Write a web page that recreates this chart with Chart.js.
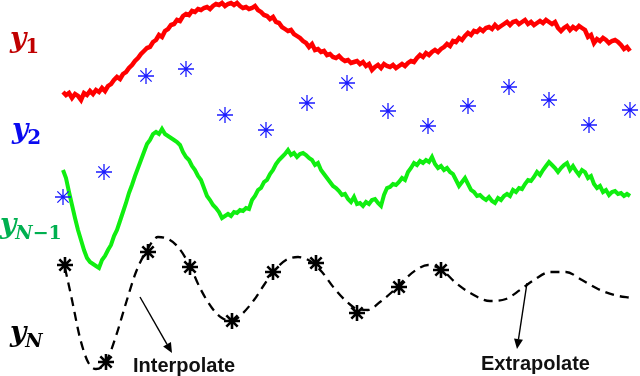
<!DOCTYPE html>
<html><head><meta charset="utf-8">
<script src="https://cdn.jsdelivr.net/npm/chart.js@4"></script>
<style>html,body{margin:0;padding:0;background:#fff}canvas{display:block}</style>
</head><body>
<canvas id="c" width="640" height="376"></canvas>
<script>
// ---- data (x: time units, y: depth units, measured downward) ----
const sampleStep = 0.3;
const y1Start = 6.3;
const y1Values = [
9.2,9.5,9.3,9.8,9.4,9.6,10.0,9.3,9.5,9.1,
9.4,9.0,9.2,8.8,9.1,8.6,8.4,8.0,7.7,7.9,
7.4,7.2,6.8,6.5,6.1,5.8,5.4,5.1,4.8,4.7,
4.2,4.0,3.5,3.7,3.1,2.9,2.5,2.4,2.0,2.1,
1.6,1.4,1.5,1.1,1.2,0.9,1.0,0.8,0.7,0.9,
0.6,0.4,0.5,0.3,0.6,0.4,0.3,0.5,0.3,0.6,
0.8,0.7,0.9,0.8,0.6,1.0,1.2,1.5,1.6,1.9,
1.7,2.2,2.3,2.7,2.9,3.1,3.0,3.4,3.6,3.8,
4.1,4.3,4.7,4.4,5.0,4.9,5.2,5.1,5.5,5.4,
5.7,5.8,5.6,5.9,6.1,6.0,6.3,6.2,6.1,6.4,
6.2,6.6,6.4,7.0,6.7,6.5,6.8,6.4,6.6,6.7,
6.5,6.8,6.6,6.4,6.6,6.3,6.1,6.2,5.8,5.5,
5.7,5.3,5.5,5.2,5.0,5.2,4.9,4.7,4.4,4.6,
4.1,4.2,3.8,4.0,3.6,3.3,3.5,3.1,3.2,2.9,
3.1,2.8,2.7,2.9,2.5,2.8,2.6,2.4,2.2,2.5,
2.2,2.1,2.4,2.2,2.0,2.4,2.2,2.5,2.3,2.1,
2.3,2.0,2.2,2.4,2.2,2.8,3.1,2.8,2.6,3.0,
2.7,2.9,2.6,2.8,3.0,3.7,3.5,4.3,3.9,4.1,
3.8,4.0,4.3,4.1,4.0,4.2,4.5,4.9,4.7,5.1];

const yNm1Start = 6.3;
const yNm1Values = [
17.0,17.8,19.2,20.5,21.8,23.0,24.0,25.0,25.8,26.2,
26.4,26.6,26.8,26.0,25.6,25.0,24.5,23.6,23.0,22.1,
21.2,20.3,19.3,18.5,17.6,16.8,16.0,15.2,14.4,14.0,
13.4,13.2,13.4,12.9,13.4,13.6,13.8,14.0,14.2,14.5,
15.2,15.7,16.0,16.6,17.0,17.6,18.0,18.8,19.6,20.0,
20.5,20.8,21.2,21.8,21.6,21.4,21.6,21.2,21.3,21.0,
21.1,20.8,20.9,20.0,19.6,19.0,18.8,18.2,18.0,17.4,
17.0,16.4,16.0,15.7,15.4,15.0,15.5,15.3,15.7,15.4,
15.3,15.5,15.8,16.0,16.5,16.3,17.0,17.4,17.8,18.2,
18.6,18.8,19.1,19.5,19.4,19.9,20.2,19.7,20.4,20.3,
20.6,20.2,20.4,20.0,19.9,20.3,20.6,19.5,18.8,18.7,
18.4,18.5,18.2,17.8,18.0,17.2,16.8,16.3,16.5,16.1,
16.3,16.0,16.2,15.7,16.4,16.8,16.6,17.0,16.8,17.2,
17.4,18.0,18.6,18.2,17.8,18.4,19.0,19.2,19.6,19.5,
19.8,20.0,19.7,20.1,20.3,19.8,20.0,19.6,19.4,19.6,
19.0,19.2,18.8,18.9,18.4,18.0,18.1,17.7,17.2,17.5,
17.0,16.6,16.2,16.5,16.8,17.2,16.8,16.5,16.3,17.0,
16.6,17.1,17.5,17.0,17.2,17.8,17.6,18.4,18.8,18.6,
19.2,19.0,19.5,19.2,19.1,19.4,19.3,19.6,19.4,19.6];

const yNCurveX = [6.5,7.2,8.0,8.8,9.6,10.6,11.6,12.6,13.6,14.7,15.8,16.8,17.8,19.0,20.0,21.2,22.2,23.2,24.2,25.4,26.4,27.4,28.6,29.8,31.0,32.2,33.4,34.6,35.7,36.8,38.0,39.2,40.4,41.6,42.8,44.2,45.6,47.2,49.0,50.6,52.0,53.4,55.0,56.6,58.2,59.8,61.4,63.2];
const yNCurveY = [26.8,30.0,33.8,36.2,36.9,36.2,33.6,30.3,27.2,25.0,23.7,23.9,24.7,26.6,28.8,30.8,31.8,32.1,31.4,30.0,28.5,27.1,26.0,25.7,26.1,27.2,28.8,30.1,30.9,31.0,30.2,29.2,28.0,27.0,26.5,27.0,28.3,29.4,30.1,29.9,29.0,28.0,27.2,27.2,28.0,28.9,29.5,29.8];

const y2SampleX = [6.3,10.4,14.6,18.6,22.5,26.6,30.7,34.7,38.8,42.8,46.8,50.9,54.9,58.9,63.0];
const y2SampleY = [19.7,17.2,7.6,6.9,11.5,13.0,10.3,8.3,11.1,12.6,10.6,8.7,10.0,12.5,11.0];

const yNSampleX = [6.5,10.6,14.8,19.0,23.2,27.3,31.6,35.7,39.9,44.1];
const yNSampleY = [26.5,36.2,25.2,26.7,32.1,27.2,26.3,31.3,28.7,27.0];

const seriesNames = ['1','2','N\u22121','N'];
const annotationTexts = ['Interpolate','Extrapolate'];

// ---- build datasets ----
const pts = (start, vals) => vals.map((v,i)=>({x: +(start + i*sampleStep).toFixed(2), y: v}));
const zip = (xs, ys) => xs.map((x,i)=>({x, y: ys[i]}));

const labelPlugin = {
  id: 'labels',
  afterDatasetsDraw(chart) {
    const {ctx, scales:{x, y}} = chart;
    const X = v => x.getPixelForValue(v), Y = v => y.getPixelForValue(v);
    ctx.save();
    const specs = [
      {name: seriesNames[0], lx: 1.0, ly: 4.7, sy: 5.3, color: '#c00000'},
      {name: seriesNames[1], lx: 1.2, ly: 13.8, sy: 14.4, color: '#0a0af0'},
      {name: seriesNames[2], lx: 0.0, ly: 23.3, sy: 23.9, color: '#00b050'},
      {name: seriesNames[3], lx: 1.0, ly: 34.1, sy: 34.7, color: '#000000'}
    ];
    for (const s of specs) {
      ctx.fillStyle = s.color;
      ctx.textBaseline = 'alphabetic';
      ctx.textAlign = 'left';
      ctx.font = 'italic bold 28px "DejaVu Serif"';
      const px = X(s.lx);
      ctx.fillText('y', px, Y(s.ly));
      let cx = px + ctx.measureText('y').width - 1;
      if (s.name.startsWith('N')) {
        ctx.font = 'italic bold 19px "DejaVu Serif"';
        ctx.fillText('N', cx, Y(s.sy));
        cx += ctx.measureText('N').width;
        const rest = s.name.slice(1);
        if (rest) {
          ctx.font = 'bold 19px "DejaVu Serif"';
          ctx.fillText(rest, cx, Y(s.sy));
        }
      } else {
        ctx.font = 'bold 20px "DejaVu Serif"';
        ctx.fillText(s.name, cx, Y(s.sy));
      }
    }
    const arrows = [
      {x0: 14.0, y0: 29.7, x1: 17.2, y1: 35.3},
      {x0: 52.7, y0: 28.3, x1: 51.7, y1: 34.9}
    ];
    ctx.strokeStyle = '#000'; ctx.fillStyle = '#000'; ctx.lineWidth = 1.4;
    for (const a of arrows) {
      const ax = X(a.x0), ay = Y(a.y0), bx = X(a.x1), by = Y(a.y1);
      const ang = Math.atan2(by-ay, bx-ax);
      const L = 10, W = 4.5;
      const hx = bx - L*Math.cos(ang), hy = by - L*Math.sin(ang);
      ctx.beginPath(); ctx.moveTo(ax, ay); ctx.lineTo(hx, hy); ctx.stroke();
      ctx.beginPath();
      ctx.moveTo(bx, by);
      ctx.lineTo(hx + W*Math.sin(ang), hy - W*Math.cos(ang));
      ctx.lineTo(hx - W*Math.sin(ang), hy + W*Math.cos(ang));
      ctx.closePath(); ctx.fill();
    }
    ctx.font = 'bold 20px "Liberation Sans"';
    ctx.fillStyle = '#111';
    ctx.fillText(annotationTexts[0], X(13.3), Y(37.2));
    ctx.fillText(annotationTexts[1], X(48.1), Y(37.0));
    ctx.restore();
  }
};

new Chart(document.getElementById('c'), {
  type: 'line',
  data: {
    datasets: [
      {label: 'y2', data: zip(y2SampleX, y2SampleY), showLine: false, pointStyle: 'star',
       pointRadius: 8, borderColor: '#1a1aff', pointBorderWidth: 1.3, backgroundColor: '#1a1aff', order: 0},
      {label: 'yN samples', data: zip(yNSampleX, yNSampleY), showLine: false, pointStyle: 'star',
       pointRadius: 8, borderColor: '#000', pointBorderWidth: 2.6, backgroundColor: '#000', order: 0},
      {label: 'y1', data: pts(y1Start, y1Values), borderColor: '#ff0000', borderWidth: 4.5,
       pointRadius: 0, tension: 0, order: 1},
      {label: 'yN-1', data: pts(yNm1Start, yNm1Values), borderColor: '#10ee10', borderWidth: 4,
       pointRadius: 0, tension: 0, order: 1},
      {label: 'yN', data: zip(yNCurveX, yNCurveY), borderColor: '#000', borderWidth: 2.3,
       borderDash: [9, 6], pointRadius: 0, cubicInterpolationMode: 'monotone', order: 1}
    ]
  },
  options: {
    responsive: false, animation: false, devicePixelRatio: 1,
    layout: {padding: 0, autoPadding: false},
    plugins: {legend: {display: false}, tooltip: {enabled: false}},
    scales: {
      x: {type: 'linear', min: 0, max: 64, display: false},
      y: {type: 'linear', min: 0, max: 37.6, reverse: true, display: false}
    }
  },
  plugins: [labelPlugin]
});
</script>
</body></html>
